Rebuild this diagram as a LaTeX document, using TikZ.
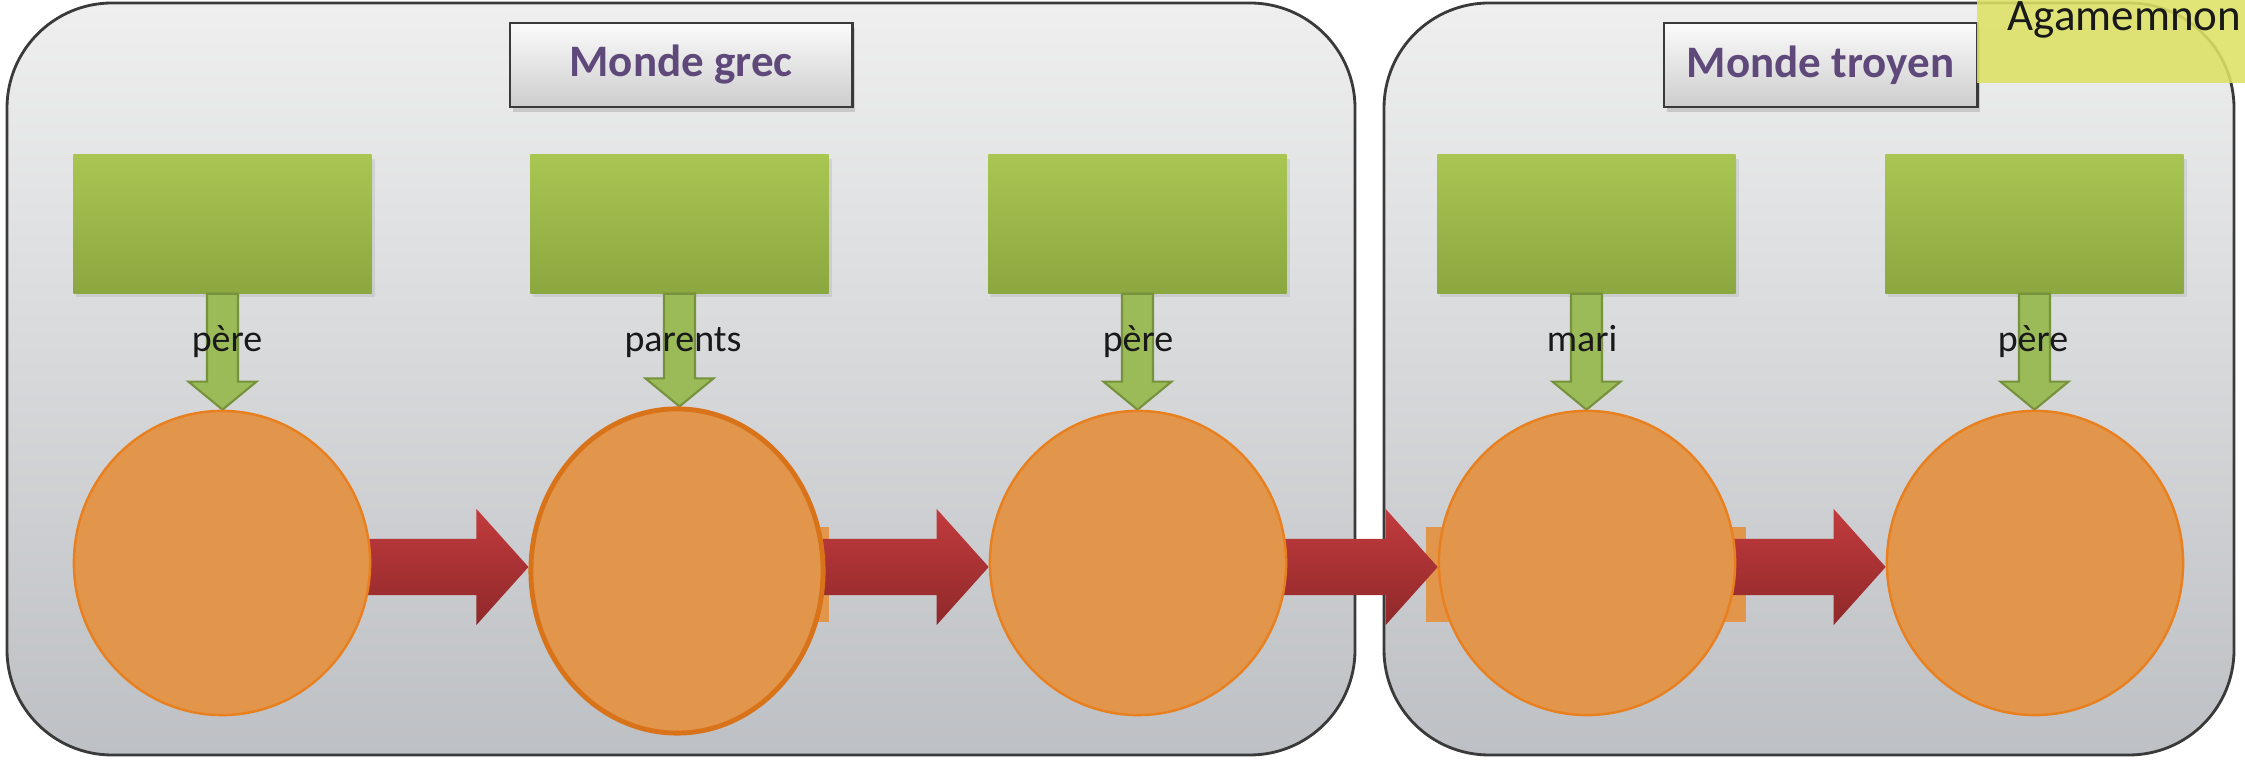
\documentclass[tikz,border=0pt]{standalone}
\usepackage{fontspec}
\setmainfont{Carlito}
\usetikzlibrary{shapes.geometric,calc,shadows}
\pgfdeclarelayer{back}\pgfdeclarelayer{mid}
\pgfsetlayers{back,mid,main}
\definecolor{paneltop}{HTML}{EFEFEF}
\definecolor{panelbot}{HTML}{BDC0C4}
\definecolor{panelline}{HTML}{3A3A3A}
\definecolor{titletop}{HTML}{FBFBFB}
\definecolor{titlebot}{HTML}{CDCDCD}
\definecolor{titlecol}{HTML}{5F497A}
\definecolor{greentop}{HTML}{A9C653}
\definecolor{greenbot}{HTML}{8BA73F}
\definecolor{greenfill}{HTML}{9BBB59}
\definecolor{greenline}{HTML}{76923C}
\definecolor{orangefill}{HTML}{E2964C}
\definecolor{orangeline}{HTML}{E8801F}
\definecolor{orangedark}{HTML}{D9731A}
\definecolor{redtop}{HTML}{C23B3D}
\definecolor{redbot}{HTML}{8F282A}
\definecolor{yellowbox}{HTML}{DDE164}
\begin{document}
\begin{tikzpicture}[x=0.01cm,y=-0.01cm,
  panel/.style={draw=panelline, line width=0.8pt, rounded corners=1.05cm, top color=paneltop, bottom color=panelbot},
  titlebox/.style={draw=panelline, line width=0.8pt, top color=titletop, bottom color=titlebot, inner sep=0pt,
    minimum height=0.84cm, text=titlecol, font=\fontsize{12.8pt}{15pt}\selectfont\bfseries,
    drop shadow={opacity=0.3, shadow xshift=0.03cm, shadow yshift=-0.05cm}},
  greenbox/.style={minimum width=2.98cm, minimum height=1.38cm, inner sep=0pt, top color=greentop, bottom color=greenbot,
    drop shadow={opacity=0.18, shadow xshift=0.03cm, shadow yshift=-0.04cm}},
  orb/.style={ellipse, fill=orangefill, draw=orangeline, line width=0.7pt, minimum width=2.96cm, minimum height=3.04cm, inner sep=0pt},
  notch/.style={fill=orangefill},
  lbl/.style={font=\fontsize{10.8pt}{13pt}\selectfont, text=black!90, inner sep=0pt, anchor=base},
  greenarr/.style={fill=greenfill, draw=greenline, line width=0.6pt, line join=miter},
  redarr/.style={shade, top color=redtop, bottom color=redbot}
]
\useasboundingbox (0,0) rectangle (2245,765);

\begin{pgfonlayer}{back}
  \fill[white] (0,0) rectangle (2245,765);
  \path[panel] (7,3) rectangle (1355,755);
  \path[panel] (1384,3) rectangle (2234,755);
  \node[titlebox, minimum width=3.42cm] (t1) at (681,65) {Monde grec};
  \node[titlebox, minimum width=3.13cm] (t2) at (1820.5,65) {Monde troyen};
  \node[greenbox] (g1) at (222.5,224) {};
  \node[greenbox] (g2) at (679.5,224) {};
  \node[greenbox] (g3) at (1137.5,224) {};
  \node[greenbox] (g4) at (1586.5,224) {};
  \node[greenbox] (g5) at (2034.5,224) {};
  \fill[notch] (760,527) rectangle (829,622);
  \fill[notch] (1426,527) rectangle (1470,622);
  \fill[notch] (1700,527) rectangle (1746,622);
\end{pgfonlayer}

% yellow box with name
\fill[yellowbox, fill opacity=0.88] (1977,0) rectangle (2245,83);
\node[font=\fontsize{12.8pt}{15pt}\selectfont, text=black!90, inner sep=0pt, anchor=base west] (agam) at (2007,31) {Agamemnon};

% circles
\node[orb] (c1) at (222,563) {};
\node[orb, minimum width=2.92cm, minimum height=3.24cm, draw=orangedark, line width=1.4pt] (c2) at (677,571) {};
\node[orb] (c3) at (1138,563) {};
\node[orb] (c4) at (1587,563) {};
\node[orb] (c5) at (2035,563) {};
\coordinate (ay) at (0,567);

\begin{pgfonlayer}{mid}
  % green down arrows
  \foreach \g/\c in {g1/c1,g2/c2,g3/c3,g4/c4,g5/c5}{
    \path[greenarr] let \p1=(\g.south), \p2=(\c.north) in
      (\x1-0.155cm,\y1) -- (\x1+0.155cm,\y1) -- (\x1+0.155cm,\y2+0.28cm) -- (\x1+0.34cm,\y2+0.28cm)
      -- (\x1,\y2) -- (\x1-0.34cm,\y2+0.28cm) -- (\x1-0.155cm,\y2+0.28cm) -- cycle;
  }
  % red block arrows
  \foreach \a/\b in {c1/c2,c2/c3,c3/c4,c4/c5}{
    \path[redarr] let \p1=(\a.east), \p2=(\b.west), \p3=(ay) in
      (\x1-0.05cm,\y3+0.28cm) -- (\x2-0.52cm,\y3+0.28cm) -- (\x2-0.52cm,\y3+0.58cm) -- (\x2,\y3)
      -- (\x2-0.52cm,\y3-0.58cm) -- (\x2-0.52cm,\y3-0.28cm) -- (\x1-0.05cm,\y3-0.28cm) -- cycle;
  }
\end{pgfonlayer}

% labels
\node[lbl] (l1) at (227,352) {père};
\node[lbl] (l2) at (683,352) {parents};
\node[lbl] (l3) at (1138,352) {père};
\node[lbl] (l4) at (1582,352) {mari};
\node[lbl] (l5) at (2033,352) {père};
\end{tikzpicture}
\end{document}
